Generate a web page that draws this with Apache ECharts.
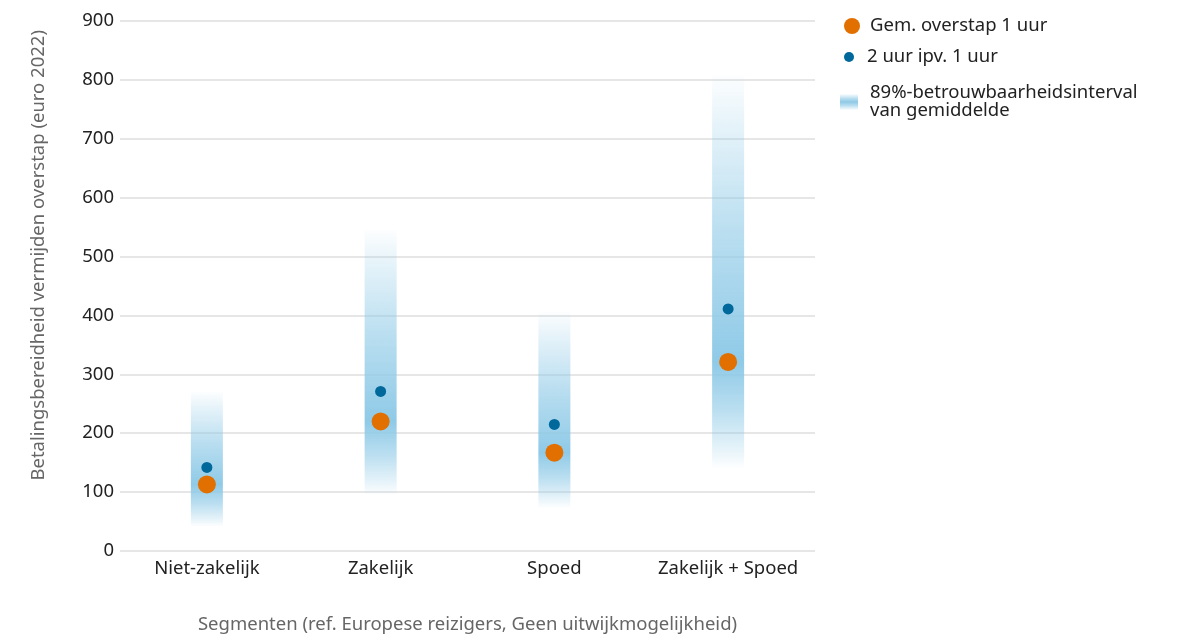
<!DOCTYPE html>
<html>
<head>
<meta charset="utf-8">
<script src="https://cdn.jsdelivr.net/npm/echarts@6/dist/echarts.min.js"></script>
<style>
  html, body { margin: 0; padding: 0; background: #fff; }
  #chart { width: 1185px; height: 639px; }
</style>
</head>
<body>
<div id="chart"></div>
<script>
// Segments and estimated willingness to pay (euro 2022)
const categories = ['Niet-zakelijk', 'Zakelijk', 'Spoed', 'Zakelijk + Spoed'];
const meanOneHour = [113, 220, 167, 321];      // Gem. overstap 1 uur
const twoInsteadOfOne = [142, 271, 215, 411];  // 2 uur ipv. 1 uur
const intervalLow = [42, 96, 74, 142];         // 89%-interval lower bound
const intervalHigh = [270, 545, 406, 808];     // 89%-interval upper bound
const yTicks = { min: 0, max: 900, interval: 100 };

const FONT = 'Noto Sans';
const FS = 18.5;
const BAND_RGB = '143,202,231';

// Vertical fade: strongest at the mean, fading towards both interval bounds
function bandGradient(t) {
  return new echarts.graphic.LinearGradient(0, 0, 0, 1, [
    { offset: 0, color: `rgba(${BAND_RGB},0.02)` },
    { offset: t * 0.15, color: `rgba(${BAND_RGB},0.2)` },
    { offset: t * 0.55, color: `rgba(${BAND_RGB},0.62)` },
    { offset: t, color: `rgba(${BAND_RGB},1)` },
    { offset: t + (1 - t) * 0.45, color: `rgba(${BAND_RGB},0.62)` },
    { offset: t + (1 - t) * 0.85, color: `rgba(${BAND_RGB},0.2)` },
    { offset: 1, color: `rgba(${BAND_RGB},0.02)` }
  ]);
}

const bandData = categories.map((c, i) => [i, intervalLow[i], intervalHigh[i], meanOneHour[i]]);

const chart = echarts.init(document.getElementById('chart'), null, { renderer: 'canvas' });

const legendText = { fontFamily: FONT, fontSize: FS, color: '#222', lineHeight: 20 };

chart.setOption({
  animation: false,
  textStyle: { fontFamily: FONT },
  grid: { left: 120, right: 370, top: 21, bottom: 88, containLabel: false, outerBoundsMode: 'none' },
  legend: [
    {
      left: 844, top: 16, padding: 0, icon: 'circle', itemWidth: 26, itemHeight: 16,
      textStyle: legendText, data: ['Gem. overstap 1 uur']
    },
    {
      left: 844, top: 47, padding: 0, icon: 'circle', itemWidth: 26, itemHeight: 10,
      textStyle: legendText, data: ['2 uur ipv. 1 uur']
    },
    {
      left: 840, top: 75, padding: 0, icon: 'rect', itemWidth: 18, itemHeight: 16,
      textStyle: Object.assign({}, legendText, { lineHeight: 18, padding: [18, 0, 0, 7] }),
      formatter: () => '89%-betrouwbaarheidsinterval\nvan gemiddelde',
      data: [{ name: 'interval', itemStyle: { color: bandGradient(0.5) } }]
    }
  ],
  xAxis: {
    type: 'category',
    data: categories,
    axisLine: { show: false },
    axisTick: { show: false },
    axisLabel: { fontFamily: FONT, fontSize: FS, color: '#222', margin: 8, interval: 0 },
    name: 'Segmenten (ref. Europese reizigers, Geen uitwijkmogelijkheid)',
    nameLocation: 'middle',
    nameGap: 64,
    nameTextStyle: { fontFamily: FONT, fontSize: FS, color: '#666' }
  },
  yAxis: {
    type: 'value',
    min: yTicks.min, max: yTicks.max, interval: yTicks.interval,
    axisLine: { show: false },
    axisTick: { show: false },
    axisLabel: { fontFamily: FONT, fontSize: FS, color: '#222', margin: 6 },
    splitLine: { lineStyle: { color: '#dedede', width: 1.5 } }
  },
  graphic: [{
    type: 'text',
    left: 29,
    top: 30,
    rotation: Math.PI / 2,
    style: {
      text: 'Betalingsbereidheid vermijden overstap (euro 2022)',
      fontFamily: FONT, fontSize: FS, fill: '#666'
    }
  }],
  series: [
    {
      name: 'interval',
      type: 'custom',
      data: bandData,
      itemStyle: { color: bandGradient(0.5) },
      encode: { x: 0, y: [1, 2] },
      renderItem: function (params, api) {
        const x = api.value(0);
        const lo = api.value(1), hi = api.value(2), mean = api.value(3);
        const top = api.coord([x, hi]);
        const bottom = api.coord([x, lo]);
        const w = 32;
        const t = (hi - mean) / (hi - lo);
        return {
          type: 'rect',
          shape: { x: top[0] - w / 2, y: top[1], width: w, height: bottom[1] - top[1] },
          style: { fill: bandGradient(t) }
        };
      },
      z: 1
    },
    {
      name: '2 uur ipv. 1 uur',
      type: 'scatter',
      data: twoInsteadOfOne.map((v, i) => [i, v]),
      symbol: 'circle',
      symbolSize: 11,
      itemStyle: { color: '#01689b', opacity: 1 },
      z: 3
    },
    {
      name: 'Gem. overstap 1 uur',
      type: 'scatter',
      data: meanOneHour.map((v, i) => [i, v]),
      symbol: 'circle',
      symbolSize: 18,
      itemStyle: { color: '#e17000', opacity: 1 },
      z: 4
    }
  ]
});
</script>
</body>
</html>
